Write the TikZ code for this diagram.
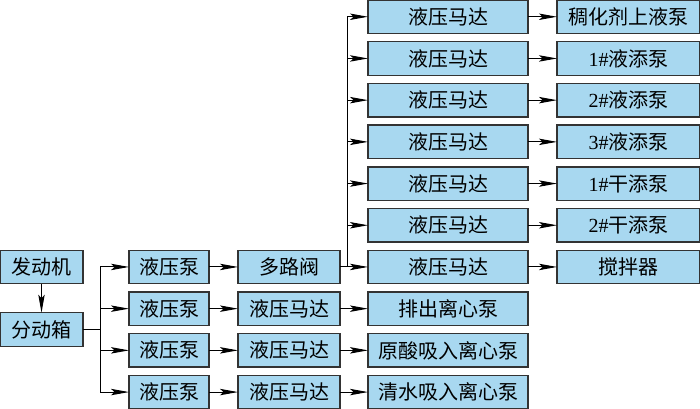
\documentclass[tikz,border=0pt]{standalone}
\usepackage{fontspec}
\setmainfont{Liberation Serif}
\newfontfamily\cjk{Noto Sans CJK SC}
\usetikzlibrary{positioning,arrows.meta}
\definecolor{boxfill}{HTML}{A8D8F0}
\definecolor{boxline}{HTML}{333333}
\tikzset{
  box/.style = {draw=boxline, fill=boxfill, line width=0.7pt, inner sep=0pt, outer sep=0pt,
                minimum height=16.75pt, font=\cjk\fontsize{10}{12}\selectfont},
  wa/.style = {box, minimum width=41.5pt},
  wb/.style = {box, minimum width=40pt},
  wc/.style = {box, minimum width=51pt},
  wd/.style = {box, minimum width=80pt},
  we/.style = {box, minimum width=71.5pt},
  link/.style = {line width=0.5pt, black},
  arr/.style = {link, -{Stealth[length=9pt,width=3.2pt,inset=1.8pt]}},
}
\newcommand{\nr}[1]{{\rmfamily #1}}
\begin{document}
\begin{tikzpicture}
              \useasboundingbox (0,0) rectangle (350pt,-204pt);

              \node[wd] (m1) at (224pt,-8.375pt) {液压马达};
              \node[wd, below=4.1pt of m1] (m2) {液压马达};
              \node[wd, below=4.1pt of m2] (m3) {液压马达};
              \node[wd, below=4.1pt of m3] (m4) {液压马达};
              \node[wd, below=4.1pt of m4] (m5) {液压马达};
              \node[wd, below=4.1pt of m5] (m6) {液压马达};
              \node[wd, below=4.1pt of m6] (m7) {液压马达};
              \node[wd, below=4.1pt of m7] (c8) {排出离心泵};
              \node[wd, below=4.1pt of c8] (c9) {原酸吸入离心泵};
              \node[wd, below=4.1pt of c9] (c10) {清水吸入离心泵};

              \node[we, right=14.5pt of m1] (p1) {稠化剂上液泵};
              \node[we, right=14.5pt of m2] (p2) {\nr{1\#}液添泵};
              \node[we, right=14.5pt of m3] (p3) {\nr{2\#}液添泵};
              \node[we, right=14.5pt of m4] (p4) {\nr{3\#}液添泵};
              \node[we, right=14.5pt of m5] (p5) {\nr{1\#}干添泵};
              \node[we, right=14.5pt of m6] (p6) {\nr{2\#}干添泵};
              \node[we, right=14.5pt of m7] (p7) {搅拌器};

              \node[wc, left=14pt of m7] (v) {多路阀};
              \node[wc, left=14pt of c8] (d8) {液压马达};
              \node[wc, left=14pt of c9] (d9) {液压马达};
              \node[wc, left=14pt of c10] (d10) {液压马达};

              \node[wb, left=14.5pt of v] (b7) {液压泵};
              \node[wb, left=14.5pt of d8] (b8) {液压泵};
              \node[wb, left=14.5pt of d9] (b9) {液压泵};
              \node[wb, left=14.5pt of d10] (b10) {液压泵};

              \node[wa, left=23pt of b7] (e) {发动机};
              \node[wa, below=14.5pt of e] (f) {分动箱};

              \draw[arr] (e) -- (f);
              \draw[link] (f.east) -- ++(8.5pt,0) coordinate (j);
              \draw[link] (j |- b7) -- (j |- b10);
              \foreach \i in {7,...,10}
                \draw[arr] (j |- b\i) -- (b\i);

              \draw[arr] (b7) -- (v);
              \foreach \i in {8,9,10} {
                \draw[arr] (b\i) -- (d\i);
                \draw[arr] (d\i) -- (c\i);
              }

              \draw[arr] (v) -- (m7);
              \path (v.east) ++(3.5pt,0) coordinate (k);
              \draw[link] (k |- m7) -- (k |- m1);
              \foreach \i in {1,...,6}
                \draw[arr] (k |- m\i) -- (m\i);
              \foreach \i in {1,...,7}
                \draw[arr] (m\i) -- (p\i);
            \end{tikzpicture}
\end{document}
